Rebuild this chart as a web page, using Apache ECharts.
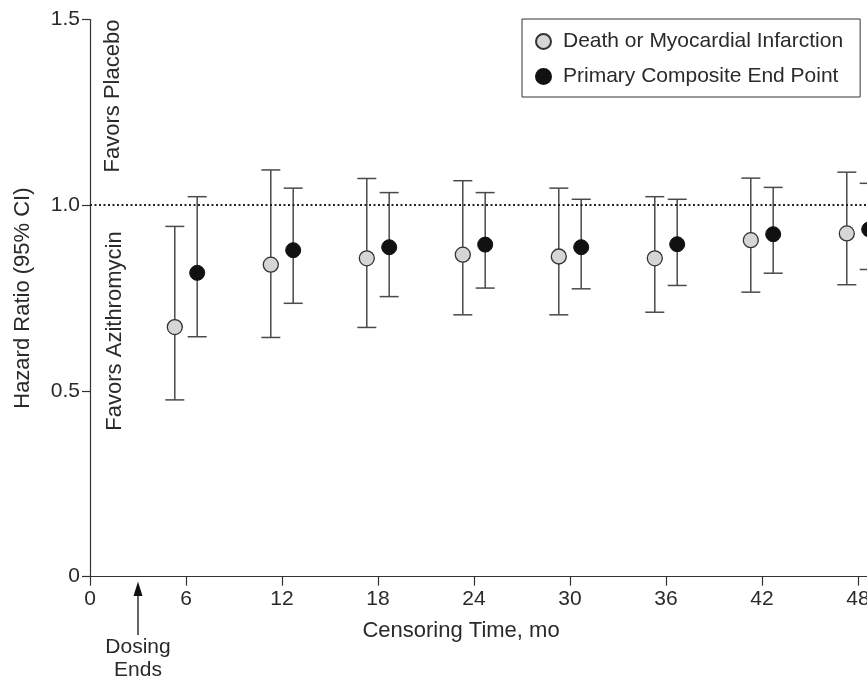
<!DOCTYPE html>
<html><head><meta charset="utf-8">
<script src="https://cdn.jsdelivr.net/npm/echarts@6/dist/echarts.min.js"></script>
<style>html,body{margin:0;padding:0;background:#fff}#c{width:867px;height:680px}</style>
</head><body><div id="c"></div>
<script>
const xTicks = [0, 6, 12, 18, 24, 30, 36, 42, 48];
const yTicks = [0, 0.5, 1.0, 1.5];
const yTickLabels = ['0', '0.5', '1.0', '1.5'];
const seriesNames = ['Death or Myocardial Infarction', 'Primary Composite End Point'];
const dmiX  = [5.3, 11.3, 17.3, 23.3, 29.3, 35.3, 41.3, 47.3];
const dmiHR = [0.672, 0.840, 0.857, 0.867, 0.862, 0.857, 0.906, 0.924];
const dmiLo = [0.476, 0.644, 0.671, 0.705, 0.705, 0.712, 0.766, 0.786];
const dmiHi = [0.943, 1.095, 1.072, 1.066, 1.046, 1.023, 1.073, 1.089];
const pceX  = [6.7, 12.7, 18.7, 24.7, 30.7, 36.7, 42.7, 48.7];
const pceHR = [0.818, 0.879, 0.887, 0.894, 0.887, 0.895, 0.922, 0.935];
const pceLo = [0.646, 0.736, 0.754, 0.777, 0.775, 0.784, 0.817, 0.827];
const pceHi = [1.023, 1.046, 1.034, 1.034, 1.016, 1.016, 1.048, 1.059];
const dosingEnd = 3;
const refHR = 1.0;

const FONT = '"Liberation Sans", Arial, Helvetica, sans-serif';
const TXT = '#2a2a2a';
const AX = '#333';

function errRender(params, api) {
  const x = api.value(0), lo = api.value(1), hi = api.value(2);
  const pLo = api.coord([x, lo]), pHi = api.coord([x, hi]);
  const hw = 9.5;
  const style = { stroke: '#4a4a4a', lineWidth: 1.5, fill: null };
  return { type: 'group', children: [
    { type: 'line', shape: { x1: pLo[0], y1: pLo[1], x2: pHi[0], y2: pHi[1] }, style: style },
    { type: 'line', shape: { x1: pLo[0] - hw, y1: pLo[1], x2: pLo[0] + hw, y2: pLo[1] }, style: style },
    { type: 'line', shape: { x1: pHi[0] - hw, y1: pHi[1], x2: pHi[0] + hw, y2: pHi[1] }, style: style }
  ]};
}

const chart = echarts.init(document.getElementById('c'), null, { renderer: 'canvas' });
chart.setOption({
  animation: false,
  backgroundColor: '#fff',
  textStyle: { fontFamily: FONT },
  grid: { left: 90, top: 19.5, bottom: 103.3, right: -23, outerBoundsMode: 'none', containLabel: false },
  legend: {
    data: seriesNames,
    orient: 'vertical', left: 522, top: 19,
    padding: [12, 17, 10, 13], itemGap: 14, itemWidth: 29, itemHeight: 15,
    icon: 'circle', borderColor: AX, borderWidth: 1,
    textStyle: { fontSize: 21, color: TXT, fontFamily: FONT }
  },
  xAxis: {
    type: 'value', min: 0, max: 50,
    name: 'Censoring Time, mo', nameLocation: 'middle', nameGap: 43,
    nameTextStyle: { fontSize: 22, color: TXT, fontFamily: FONT, padding: [0, 58, 0, 0] },
    axisLine: { show: true, onZero: false, lineStyle: { color: AX, width: 1.2 } },
    axisTick: { show: true, customValues: xTicks, length: 9, lineStyle: { color: AX, width: 1.2 } },
    axisLabel: { customValues: xTicks, fontSize: 21, color: TXT, margin: 12, fontFamily: FONT },
    splitLine: { show: false }
  },
  yAxis: {
    type: 'value', min: 0, max: 1.5, interval: 0.5,
    name: 'Hazard Ratio (95% CI)', nameLocation: 'middle', nameGap: 56,
    nameTextStyle: { fontSize: 22, color: TXT, fontFamily: FONT },
    axisLine: { show: true, lineStyle: { color: AX, width: 1.2 } },
    axisTick: { show: true, length: 8, lineStyle: { color: AX, width: 1.2 } },
    axisLabel: { fontSize: 21, color: TXT, margin: 10, fontFamily: FONT,
      formatter: function (v) { const i = yTicks.indexOf(v); return i >= 0 ? yTickLabels[i] : ''; } },
    splitLine: { show: false }
  },
  series: [
    { type: 'custom', name: 'dmiErr', renderItem: errRender, z: 1, silent: true,
      encode: { x: 0, y: [1, 2] },
      data: dmiX.map(function (x, i) { return [x, dmiLo[i], dmiHi[i]]; }) },
    { type: 'custom', name: 'pceErr', renderItem: errRender, z: 1, silent: true,
      encode: { x: 0, y: [1, 2] },
      data: pceX.map(function (x, i) { return [x, pceLo[i], pceHi[i]]; }) },
    { type: 'scatter', name: seriesNames[0], z: 3, symbol: 'circle', symbolSize: 15,
      itemStyle: { color: '#d6d6d6', borderColor: '#333', borderWidth: 1.3, opacity: 1 },
      data: dmiX.map(function (x, i) { return [x, dmiHR[i]]; }),
      markLine: { silent: true, symbol: 'none', label: { show: false },
        lineStyle: { type: [2, 2.5], color: '#222', width: 2 },
        data: [{ yAxis: refHR }] } },
    { type: 'scatter', name: seriesNames[1], z: 3, symbol: 'circle', symbolSize: 15,
      itemStyle: { color: '#111', borderColor: '#111', borderWidth: 1, opacity: 1 },
      data: pceX.map(function (x, i) { return [x, pceHR[i]]; }) }
  ]
});

const ax = chart.convertToPixel({ xAxisIndex: 0 }, dosingEnd);
chart.setOption({
  graphic: [
    { type: 'text', x: 113, y: 96, rotation: Math.PI / 2,
      style: { text: 'Favors Placebo', fontSize: 22, fontFamily: FONT, fill: TXT, align: 'center', verticalAlign: 'middle' } },
    { type: 'text', x: 115, y: 331, rotation: Math.PI / 2,
      style: { text: 'Favors Azithromycin', fontSize: 22, fontFamily: FONT, fill: TXT, align: 'center', verticalAlign: 'middle' } },
    { type: 'polygon', shape: { points: [[ax, 581.5], [ax - 4.5, 596], [ax + 4.5, 596]] }, style: { fill: '#111' } },
    { type: 'line', shape: { x1: ax, y1: 595, x2: ax, y2: 635 }, style: { stroke: '#111', lineWidth: 1.3 } },
    { type: 'text', x: ax, y: 659,
      style: { text: 'Dosing\nEnds', fontSize: 21, lineHeight: 23, fontFamily: FONT, fill: TXT, align: 'center', verticalAlign: 'middle' } }
  ]
});
</script></body></html>
